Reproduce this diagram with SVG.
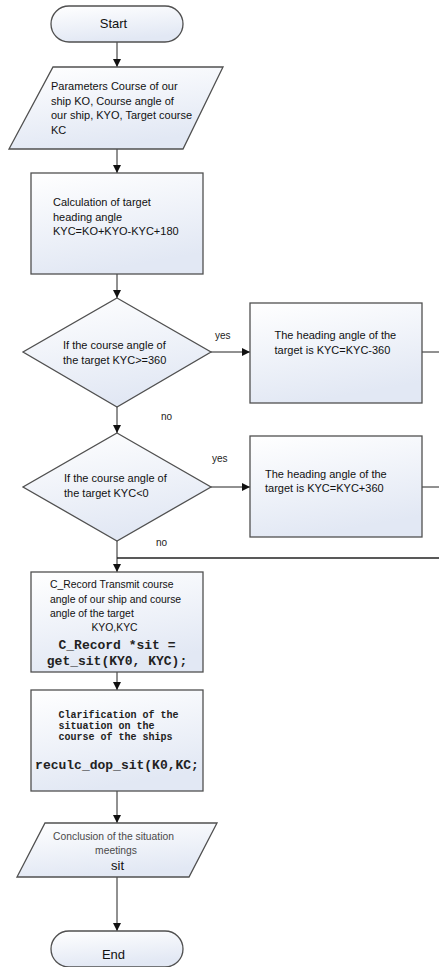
<svg xmlns="http://www.w3.org/2000/svg" width="439" height="967" viewBox="0 0 439 967">
<defs>
<linearGradient id="g" x1="0" y1="0" x2="0.3" y2="1">
<stop offset="0" stop-color="#ffffff"/>
<stop offset="1" stop-color="#e2e8f4"/>
</linearGradient>
<marker id="a" viewBox="0 0 10 10" refX="10" refY="5" markerWidth="8" markerHeight="8" markerUnits="userSpaceOnUse" orient="auto">
<path d="M0,0 L10,5 L0,10 z" fill="#111"/>
</marker>
</defs>
<style>
.s{fill:url(#g);stroke:#505050;stroke-width:1.3}
.t{font-family:"Liberation Sans",Arial,sans-serif;font-size:11px;fill:#111}
.m{font-family:"Liberation Mono","Courier New",monospace;font-weight:bold;fill:#222}
.l{font-family:"Liberation Sans",Arial,sans-serif;font-size:10px;fill:#222}
.c{fill:none;stroke:#222;stroke-width:1}
</style>
<rect width="439" height="967" fill="#fff"/>
<g id="connectors">
<line class="c" x1="117" y1="42" x2="117" y2="67" marker-end="url(#a)"/>
<line class="c" x1="117" y1="149" x2="117" y2="173" marker-end="url(#a)"/>
<line class="c" x1="117" y1="274" x2="117" y2="298" marker-end="url(#a)"/>
<line class="c" x1="211" y1="352" x2="250" y2="352" marker-end="url(#a)"/>
<line class="c" x1="117" y1="407" x2="117" y2="433" marker-end="url(#a)"/>
<line class="c" x1="211" y1="487" x2="250" y2="487" marker-end="url(#a)"/>
<line class="c" x1="117" y1="541" x2="117" y2="572" marker-end="url(#a)"/>
<line class="c" x1="422" y1="352" x2="439" y2="352"/>
<line class="c" x1="422" y1="487" x2="439" y2="487"/>
<line class="c" x1="439" y1="558" x2="117" y2="558" style="stroke-width:1.6"/>
<line class="c" x1="117" y1="672" x2="117" y2="690" marker-end="url(#a)"/>
<line class="c" x1="117" y1="791" x2="117" y2="823" marker-end="url(#a)"/>
<line class="c" x1="117" y1="877" x2="117" y2="931" marker-end="url(#a)"/>
<text class="l" x="215" y="339">yes</text>
<text class="l" x="161" y="420">no</text>
<text class="l" x="212" y="462">yes</text>
<text class="l" x="156" y="546">no</text>
</g>
<g id="start">
<rect class="s" x="51" y="6" width="132" height="36" rx="18"/>
<text class="t" x="113.5" y="27.5" text-anchor="middle" style="font-size:13px">Start</text>
</g>
<g id="params">
<polygon class="s" points="53,67 223,67 183,149 9,149"/>
<text class="t" x="51" y="90">Parameters Course of our</text>
<text class="t" x="51" y="104.5">ship KO, Course angle of</text>
<text class="t" x="51" y="119">our ship, KYO, Target course</text>
<text class="t" x="51" y="133.5">KC</text>
</g>
<g id="calc">
<rect class="s" x="31" y="173" width="172" height="101"/>
<text class="t" x="53" y="206">Calculation of target</text>
<text class="t" x="53" y="220.5">heading angle</text>
<text class="t" x="53" y="235">KYC=KO+KYO-KYC+180</text>
</g>
<g id="dec1">
<polygon class="s" points="117,298 211,352 117,407 23,352"/>
<text class="t" x="63" y="348.5">If the course angle of</text>
<text class="t" x="63" y="363.5">the target KYC&gt;=360</text>
</g>
<g id="sub360">
<rect class="s" x="250" y="303" width="172" height="100"/>
<text class="t" x="274.5" y="339">The heading angle of the</text>
<text class="t" x="274.5" y="353.5">target is KYC=KYC-360</text>
</g>
<g id="dec2">
<polygon class="s" points="117,433 211,487 117,541 23,487"/>
<text class="t" x="64" y="481.5">If the course angle of</text>
<text class="t" x="64" y="496.5">the target KYC&lt;0</text>
</g>
<g id="add360">
<rect class="s" x="250" y="436" width="172" height="101"/>
<text class="t" x="265" y="477.5">The heading angle of the</text>
<text class="t" x="265" y="492">target is KYC=KYC+360</text>
</g>
<g id="record">
<rect class="s" x="31" y="572" width="172" height="100"/>
<text class="t" x="50" y="588" style="font-size:10.4px">C_Record Transmit course</text>
<text class="t" x="50" y="602.5" style="font-size:10.4px">angle of our ship and course</text>
<text class="t" x="50" y="617" style="font-size:10.4px">angle of the target</text>
<text class="t" x="114.5" y="631" text-anchor="middle" style="font-size:10.4px">KYO,KYC</text>
<text class="m" x="117" y="649" text-anchor="middle" style="font-size:13px">C_Record *sit =</text>
<text class="m" x="117" y="664.5" text-anchor="middle" style="font-size:13px">get_sit(KY0, KYC);</text>
</g>
<g id="clarify">
<rect class="s" x="31" y="690" width="172" height="101"/>
<text class="m" x="58.5" y="718" style="font-size:10px">Clarification of the</text>
<text class="m" x="58.5" y="729" style="font-size:10px">situation on the</text>
<text class="m" x="58.5" y="740" style="font-size:10px">course of the ships</text>
<text class="m" x="117" y="769" text-anchor="middle" style="font-size:13px">reculc_dop_sit(K0,KC;</text>
</g>
<g id="conclusion">
<polygon class="s" points="45,823 217,823 189,877 17,877"/>
<text class="t" x="113.5" y="840" text-anchor="middle" style="font-size:10.3px;fill:#4a4a4a">Conclusion of the situation</text>
<text class="t" x="116" y="853.5" text-anchor="middle" style="font-size:10.3px;fill:#4a4a4a">meetings</text>
<text class="t" x="117.5" y="870" text-anchor="middle" style="font-size:13px">sit</text>
</g>
<g id="end">
<rect class="s" x="51" y="931" width="132" height="36" rx="18"/>
<text class="t" x="113.5" y="958.5" text-anchor="middle" style="font-size:13px">End</text>
</g>
</svg>
